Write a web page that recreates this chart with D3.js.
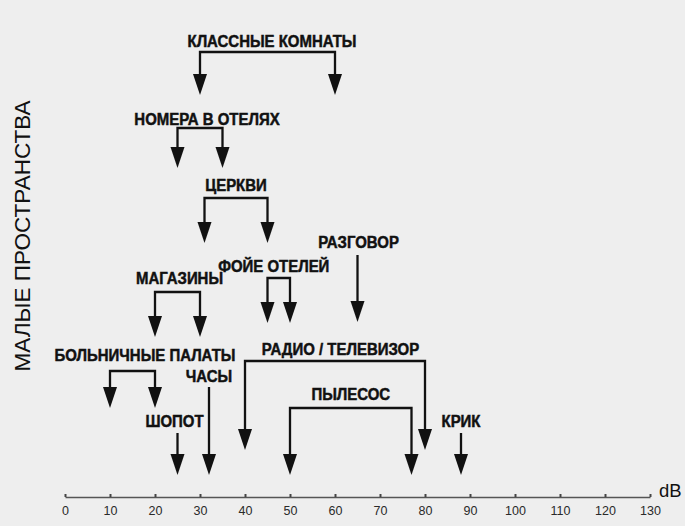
<!DOCTYPE html>
<html>
<head>
<meta charset="utf-8">
<script src="https://cdn.jsdelivr.net/npm/d3@7"></script>
<style>
  html, body { margin: 0; padding: 0; background: #eeeeee; }
  svg { display: block; }
</style>
</head>
<body>
<svg id="chart" width="685" height="526"></svg>
<script>
// Noise sources in small rooms and their typical loudness (dB).
// Each source spans a range (low..high); single-valued sources have high = null.
const sources = [
  "КЛАССНЫЕ КОМНАТЫ", "НОМЕРА В ОТЕЛЯХ", "ЦЕРКВИ", "РАЗГОВОР",
  "ФОЙЕ ОТЕЛЕЙ", "МАГАЗИНЫ", "БОЛЬНИЧНЫЕ ПАЛАТЫ", "ЧАСЫ",
  "ШОПОТ", "РАДИО / ТЕЛЕВИЗОР", "ПЫЛЕСОС", "КРИК"
];
const lowDb  = [30, 25, 31, 65, 45, 20, 10, 32, 25, 40, 50, 88];
const highDb = [60, 35, 45, null, 50, 30, 20, null, null, 80, 77, null];
const axisTicks = [0, 10, 20, 30, 40, 50, 60, 70, 80, 90, 100, 110, 120, 130];
const axisUnit = "dB";
const sideTitle = "МАЛЫЕ ПРОСТРАНСТВА";

// Vertical placement of each callout: label baseline, bracket (or line start), arrow tip,
// plus a small horizontal nudge of the label from the arrows' centre.
const layout = [
  { label: 47,  bar: 52,  tip: 95,  dx: 4.5 },
  { label: 125, bar: 128, tip: 168, dx: 7 },
  { label: 191, bar: 198, tip: 243, dx: 0 },
  { label: 248, bar: 255, tip: 322, dx: 1 },
  { label: 272, bar: 278, tip: 323, dx: -5 },
  { label: 284, bar: 292, tip: 337, dx: 2 },
  { label: 361, bar: 371, tip: 408, dx: 12.5 },
  { label: 382, bar: 387, tip: 475, dx: 0 },
  { label: 427, bar: 433, tip: 475, dx: -3 },
  { label: 355, bar: 361, tip: 450, dx: 5.5 },
  { label: 400, bar: 408, tip: 475, dx: 0 },
  { label: 427, bar: 433, tip: 475, dx: 0 }
];

const svg = d3.select("#chart");
const ink = "#111";
const axisY = 497;

const x = d3.scaleLinear().domain([0, 130]).range([65, 650]);

// dB axis
const axisG = svg.append("g").attr("transform", `translate(0,${axisY})`);
axisG.call(d3.axisBottom(x).tickValues(axisTicks).tickSize(0).tickPadding(9));
axisG.select(".domain").attr("stroke", "#555").attr("stroke-width", 1.4);
axisG.selectAll(".tick line").remove();
axisG.selectAll(".tick").append("rect")
  .attr("x", -1).attr("y", -3).attr("width", 2).attr("height", 3).attr("fill", "#444");
axisG.selectAll(".tick text")
  .attr("font-family", "Liberation Sans, Arial, sans-serif")
  .attr("font-size", 12.5).attr("fill", "#2a2a2a");

svg.append("text")
  .attr("x", 659).attr("y", 497)
  .attr("font-family", "Liberation Sans, Arial, sans-serif")
  .attr("font-size", 18.5).attr("fill", ink)
  .text(axisUnit);

// Vertical side title
svg.append("text")
  .attr("transform", "translate(30,236) rotate(-90)")
  .attr("text-anchor", "middle")
  .attr("font-family", "Liberation Sans, Arial, sans-serif")
  .attr("font-size", 22.5).attr("fill", ink)
  .text(sideTitle);

// Callouts
const headH = 21, headW = 7;
function arrowHead(g, px, tipY) {
  g.append("path")
    .attr("d", `M${px - headW},${tipY - headH} L${px + headW},${tipY - headH} L${px},${tipY} Z`)
    .attr("fill", ink);
}

sources.forEach((name, i) => {
  const L = layout[i];
  const g = svg.append("g");
  const x1 = x(lowDb[i]);
  const x2 = highDb[i] == null ? null : x(highDb[i]);
  const mid = x2 == null ? x1 : (x1 + x2) / 2;

  if (x2 == null) {
    g.append("line")
      .attr("x1", x1).attr("x2", x1)
      .attr("y1", L.bar).attr("y2", L.tip - headH + 1)
      .attr("stroke", ink).attr("stroke-width", 2.3);
    arrowHead(g, x1, L.tip);
  } else {
    g.append("path")
      .attr("d", `M${x1},${L.tip - headH + 1} L${x1},${L.bar} L${x2},${L.bar} L${x2},${L.tip - headH + 1}`)
      .attr("fill", "none").attr("stroke", ink).attr("stroke-width", 2.3)
      .attr("stroke-linejoin", "miter");
    arrowHead(g, x1, L.tip);
    arrowHead(g, x2, L.tip);
  }

  // Condensed heavy label: narrowed horizontally around its own centre
  const cx = mid + L.dx;
  g.append("text")
    .attr("x", 0).attr("y", 0)
    .attr("text-anchor", "middle")
    .attr("font-family", "Liberation Sans, Arial, sans-serif")
    .attr("font-weight", "bold")
    .attr("font-size", 17)
    .attr("fill", ink)
    .attr("stroke", ink)
    .attr("stroke-width", 0.5)
    .attr("transform", `translate(${cx},${L.label}) scale(0.88,1)`)
    .text(name);
});
</script>
</body>
</html>
